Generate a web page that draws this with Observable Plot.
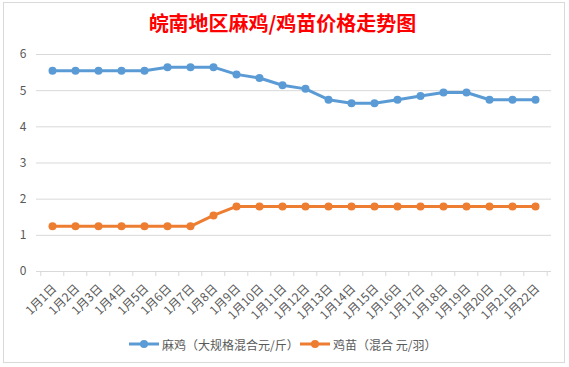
<!DOCTYPE html>
<html>
<head>
<meta charset="utf-8">
<script src="https://cdn.jsdelivr.net/npm/d3@7"></script>
<script src="https://cdn.jsdelivr.net/npm/@observablehq/plot@0.6"></script>
<style>
  html, body { margin: 0; padding: 0; background: #fff; }
  #wrap { position: relative; width: 569px; height: 367px; overflow: hidden; font-family: "Noto Sans CJK SC", "Noto Sans", sans-serif; }
  #border { position: absolute; left: 3px; top: 2px; width: 562px; height: 361px; border: 1px solid #d9d9d9; box-sizing: border-box; }
  #title { position: absolute; left: 0; top: 9px; width: 565px; text-align: center; color: #ff0000; font-size: 20px; font-weight: bold; line-height: 28px; }
  #chart { position: absolute; left: 0; top: 0; }
  #legend { position: absolute; left: 0; top: 334px; width: 569px; height: 20px; font-size: 12px; color: #595959; }
  .item { position: absolute; top: 0; display: flex; align-items: center; height: 20px; white-space: nowrap; }
  .item svg { margin-right: 3px; }
</style>
</head>
<body>
<div id="wrap">
  <div id="border"></div>
  <div id="title">皖南地区麻鸡/鸡苗价格走势图</div>
  <div id="chart"></div>
  <div id="legend"></div>
</div>
<script>
const dates = ["1月1日","1月2日","1月3日","1月4日","1月5日","1月6日","1月7日","1月8日","1月9日","1月10日","1月11日","1月12日","1月13日","1月14日","1月15日","1月16日","1月17日","1月18日","1月19日","1月20日","1月21日","1月22日"];
const mjValues = [5.55,5.55,5.55,5.55,5.55,5.65,5.65,5.65,5.45,5.35,5.15,5.05,4.75,4.65,4.65,4.75,4.85,4.95,4.95,4.75,4.75,4.75];
const jmValues = [1.25,1.25,1.25,1.25,1.25,1.25,1.25,1.55,1.8,1.8,1.8,1.8,1.8,1.8,1.8,1.8,1.8,1.8,1.8,1.8,1.8,1.8];
const yTicks = [0,1,2,3,4,5,6];
const seriesNames = ["麻鸡（大规格混合元/斤）", "鸡苗（混合 元/羽）"];
const colors = ["#5B9BD5", "#ED7D31"];

const mj = dates.map((d, i) => ({date: d, value: mjValues[i]}));
const jm = dates.map((d, i) => ({date: d, value: jmValues[i]}));

const W = 569, H = 330, ML = 36, MR = 18, MT = 54, MB = 59;
const step = (W - ML - MR) / dates.length;

const chart = Plot.plot({
  width: W, height: H,
  marginLeft: ML, marginRight: MR, marginTop: MT, marginBottom: MB,
  style: {fontFamily: '"Noto Sans CJK SC", sans-serif', background: "transparent", overflow: "visible"},
  x: {type: "point", domain: dates, padding: 0.5},
  y: {domain: [0, 6]},
  marks: [
    Plot.ruleY(yTicks.filter(t => t > 0), {stroke: "#d9d9d9", strokeWidth: 1}),
    Plot.ruleY([0], {stroke: "#d9d9d9", strokeWidth: 1}),
    Plot.ruleX(dates, {x: d => d, y1: 0, y2: -0.14, dx: -step / 2, stroke: "#d9d9d9"}),
    Plot.ruleX([dates[dates.length - 1]], {x: d => d, y1: 0, y2: -0.14, dx: step / 2, stroke: "#d9d9d9"}),
    Plot.axisY({ticks: yTicks, tickFormat: d => String(d), tickSize: 0, tickPadding: 10, fontSize: 12, color: "#595959", label: null}),
    Plot.axisX({tickSize: 0, tickPadding: 15, tickRotate: -45, fontSize: 12, color: "#595959", label: null, dx: 2}),
    Plot.line(mj, {x: "date", y: "value", stroke: colors[0], strokeWidth: 3}),
    Plot.dot(mj, {x: "date", y: "value", fill: colors[0], r: 4}),
    Plot.line(jm, {x: "date", y: "value", stroke: colors[1], strokeWidth: 3}),
    Plot.dot(jm, {x: "date", y: "value", fill: colors[1], r: 4})
  ]
});
document.getElementById("chart").appendChild(chart);

const legend = document.getElementById("legend");
const lefts = [129, 300];
seriesNames.forEach((name, i) => {
  const item = document.createElement("div");
  item.className = "item";
  item.style.left = lefts[i] + "px";
  item.innerHTML = `<svg width="30" height="10"><line x1="0" y1="5" x2="30" y2="5" stroke="${colors[i]}" stroke-width="3"/><circle cx="15" cy="5" r="4" fill="${colors[i]}"/></svg><span>${name}</span>`;
  legend.appendChild(item);
});
</script>
</body>
</html>
